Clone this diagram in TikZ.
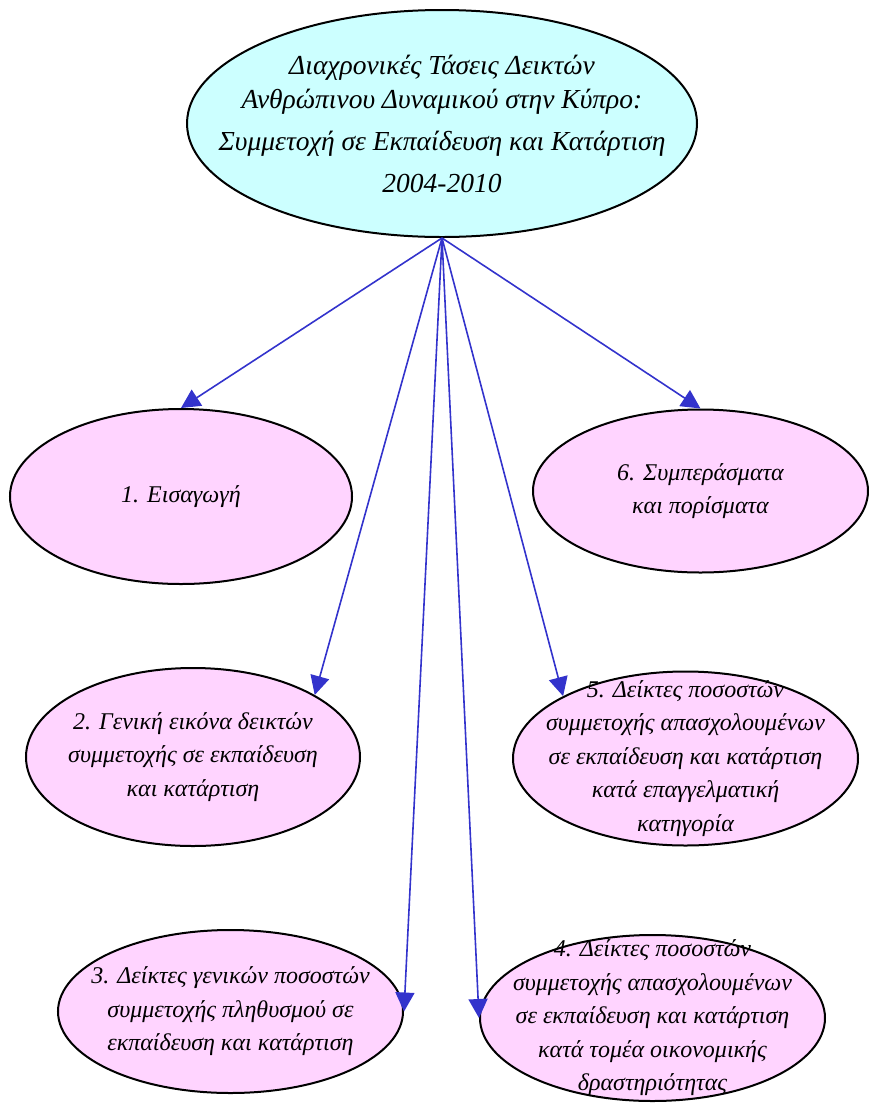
\documentclass[tikz,border=0pt]{standalone}
\usepackage{fontspec}
\setmainfont{Liberation Serif}
\usetikzlibrary{shapes.geometric,arrows.meta}
\definecolor{titlefill}{RGB}{204,255,255}
\definecolor{partfill}{RGB}{255,212,255}
\definecolor{arrowblue}{RGB}{51,51,204}
\tikzset{
  titletext/.style={align=center,inner sep=0pt,font=\fontsize{27.5}{38}\selectfont\itshape},
  parttext/.style={align=center,inner sep=0pt,font=\fontsize{24}{33.5}\selectfont\itshape},
  titlebox/.style={ellipse,draw=black,line width=2pt,fill=titlefill,inner sep=0pt,
    label={[titletext]center:{#1}}},
  partbox/.style={ellipse,draw=black,line width=2pt,fill=partfill,inner sep=0pt,
    label={[parttext]center:{#1}}},
  link/.style={draw=arrowblue,line width=1.6pt,-{Triangle[length=19pt,width=19pt]}}
}
\begin{document}
\begin{tikzpicture}[x=1pt,y=-1pt]
\useasboundingbox (0,0) rectangle (869,1104);
\node[minimum width=510pt,minimum height=227pt,titlebox={Διαχρονικές Τάσεις Δεικτών\\[-4pt]
   Ανθρώπινου Δυναμικού στην Κύπρο:\\[4pt]
   Συμμετοχή σε Εκπαίδευση και Κατάρτιση\\[4pt]
   2004-2010}] (top) at (442,123.5) {};
\coordinate (src) at (top.south);
\node[minimum width=342pt,minimum height=175pt,partbox={1. Εισαγωγή}] (p1) at (181,496.5) {};
\node[minimum width=335pt,minimum height=163pt,partbox={6. Συμπεράσματα\\και πορίσματα}] (p6) at (700.5,491) {};
\node[minimum width=334pt,minimum height=178pt,partbox={2. Γενική εικόνα δεικτών\\συμμετοχής σε εκπαίδευση\\και κατάρτιση}] (p2) at (193,757) {};
\node[minimum width=345pt,minimum height=174pt,partbox={5. Δείκτες ποσοστών\\συμμετοχής απασχολουμένων\\σε εκπαίδευση  και κατάρτιση\\κατά επαγγελματική\\κατηγορία}] (p5) at (685.5,758.5) {};
\node[minimum width=345pt,minimum height=163pt,partbox={3. Δείκτες γενικών ποσοστών\\συμμετοχής πληθυσμού σε\\εκπαίδευση και κατάρτιση}] (p3) at (230.5,1011.5) {};
\node[minimum width=345pt,minimum height=166pt,partbox={4. Δείκτες ποσοστών\\συμμετοχής απασχολουμένων\\σε εκπαίδευση  και κατάρτιση\\κατά τομέα οικονομικής\\δραστηριότητας}] (p4) at (652.5,1018) {};
\draw[link] (src) -- (p1.north);
\draw[link] (src) -- (p6.north);
\draw[link] (src) -- (p2.27);
\draw[link] (src) -- (p5.153);
\draw[link] (src) -- (p3.east);
\draw[link] (src) -- (p4.west);
\end{tikzpicture}
\end{document}
